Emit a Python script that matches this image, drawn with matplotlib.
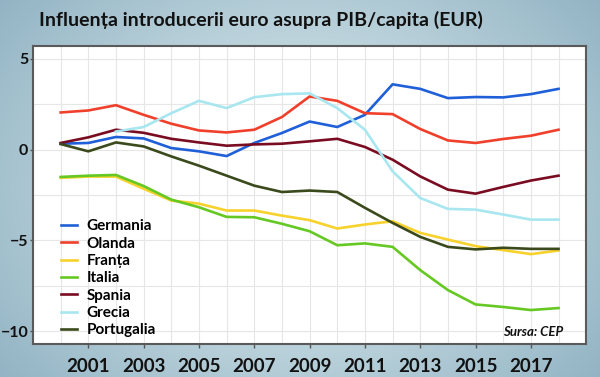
import numpy as np
import matplotlib
matplotlib.use("Agg")
import matplotlib.pyplot as plt
from matplotlib.colors import LinearSegmentedColormap

# no condensed face installed, Lato bold is the narrowest close match
plt.rcParams['font.family'] = ['Lato', 'DejaVu Sans']
plt.rcParams['font.weight'] = 'bold'

## Data
years = list(range(2000, 2019))
germania = [0.33, 0.37, 0.70, 0.62, 0.09, -0.09, -0.35, 0.37, 0.92, 1.55,
            1.25, 1.92, 3.60, 3.35, 2.84, 2.90, 2.88, 3.06, 3.35]
olanda = [2.05, 2.16, 2.45, 1.92, 1.43, 1.06, 0.95, 1.10, 1.80, 2.93,
          2.69, 2.01, 1.96, 1.14, 0.51, 0.37, 0.59, 0.77, 1.10]
franta = [-1.55, -1.48, -1.48, -2.15, -2.80, -2.97, -3.35, -3.35, -3.63, -3.88,
          -4.34, -4.12, -3.94, -4.58, -4.95, -5.31, -5.53, -5.75, -5.55]
italia = [-1.50, -1.43, -1.39, -2.00, -2.75, -3.17, -3.70, -3.72, -4.08, -4.49,
          -5.26, -5.16, -5.35, -6.63, -7.73, -8.52, -8.66, -8.83, -8.72]
spania = [0.37, 0.68, 1.10, 0.93, 0.60, 0.40, 0.22, 0.29, 0.33, 0.46,
          0.60, 0.15, -0.55, -1.47, -2.20, -2.42, -2.05, -1.70, -1.43]
grecia = [np.nan, np.nan, 1.00, 1.25, 2.01, 2.69, 2.29, 2.89, 3.06, 3.10,
          2.29, 1.10, -1.19, -2.66, -3.26, -3.30, -3.57, -3.85, -3.85]
portugalia = [0.31, -0.09, 0.40, 0.18, -0.37, -0.88, -1.43, -1.98, -2.33, -2.25,
              -2.33, -3.20, -4.03, -4.80, -5.35, -5.49, -5.40, -5.46, -5.46]

names = ['Germania', 'Olanda', 'Franța', 'Italia', 'Spania', 'Grecia', 'Portugalia']
series = [germania, olanda, franta, italia, spania, grecia, portugalia]
colors = ['#1f5fd8', '#f0402c', '#f8d22c', '#66c822', '#7a0c22', '#a8e6f0', '#3b4a1c']

fig = plt.figure(figsize=(6, 3.77), dpi=100)

# gradient background
bg = fig.add_axes([0, 0, 1, 1], zorder=-10)
xx, yy = np.meshgrid(np.linspace(-1, 1, 300), np.linspace(-1, 1, 200))
rr = np.sqrt(xx ** 2 * 0.8 + yy ** 2 * 0.5)
cmap = LinearSegmentedColormap.from_list('bg', ['#e2edf1', '#bcd3dc', '#93b4c4'])
bg.imshow(rr, cmap=cmap, aspect='auto', extent=[0, 1, 0, 1])
bg.axis('off')

ax = fig.add_axes([0.055, 0.0875, 0.922, 0.79])
ax.set_facecolor('white')

for name, vals, c in zip(names, series, colors):
    ax.plot(years, vals, color=c, lw=1.9, label=name)

ax.set_xlim(1999, 2019)
ax.set_ylim(-10.7, 5.7)
ax.set_xticks(range(2001, 2018, 2))
ax.set_xticks(range(1999, 2020), minor=True)
ax.set_yticks([5, 0, -5, -10])
ax.set_yticks(np.arange(-10, 5.1, 2.5), minor=True)
ax.grid(True, which='both', color='#e6e6e6', lw=0.8)
ax.set_axisbelow(True)
ax.tick_params(which='minor', length=0)
ax.tick_params(which='major', length=3, width=1, color='#555555',
               labelcolor='#111111')
ax.tick_params(axis='x', pad=7, labelsize=13.5)
ax.tick_params(axis='y', length=2, pad=1.5, labelsize=11.5)
for sp in ax.spines.values():
    sp.set_color('#5a5a5a')
    sp.set_linewidth(1.5)

leg = ax.legend(loc='upper left', bbox_to_anchor=(0.025, 0.465), frameon=False,
                fontsize=11, handlelength=1.1, handletextpad=0.6,
                labelspacing=0.22)

ax.text(0.958, 0.02, 'Sursa: CEP', transform=ax.transAxes, ha='right', va='bottom',
        fontsize=9.5, fontweight='bold', style='italic', color='#111111')

fig.text(0.435, 0.947, 'Influența introducerii euro asupra PIB/capita (EUR)',
         ha='center', va='center', fontsize=14, fontweight='bold', color='#111111')

fig.savefig('out.png', dpi=100)
